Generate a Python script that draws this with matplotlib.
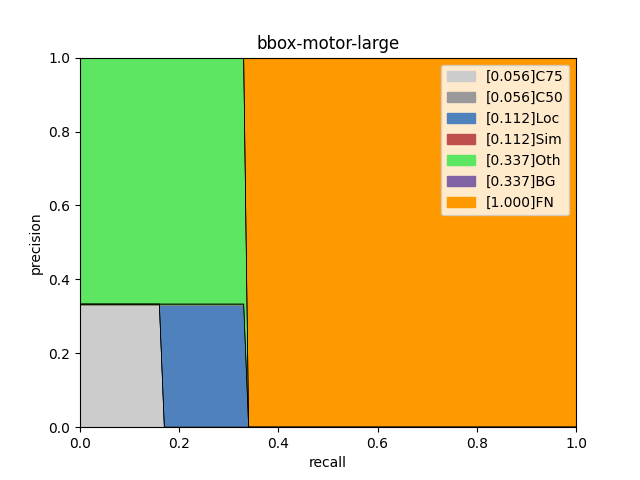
import matplotlib
matplotlib.use("Agg")
import matplotlib.pyplot as plt
import numpy as np

# recall breakpoints and precision of each error type at those points
recall = [0.0, 0.16, 0.17, 0.33, 0.34, 1.0]
p_c75 = [0.333, 0.333, 0.0, 0.0, 0.0, 0.0]
p_c50 = [0.333, 0.333, 0.0, 0.0, 0.0, 0.0]
p_loc = [0.333, 0.333, 0.333, 0.333, 0.0, 0.0]
p_sim = [0.333, 0.333, 0.333, 0.333, 0.0, 0.0]
p_oth = [1.0, 1.0, 1.0, 1.0, 0.0, 0.0]
p_bg = [1.0, 1.0, 1.0, 1.0, 0.0, 0.0]
p_fn = [1.0, 1.0, 1.0, 1.0, 1.0, 1.0]

types = ['C75', 'C50', 'Loc', 'Sim', 'Oth', 'BG', 'FN']
aps = [0.056, 0.056, 0.112, 0.112, 0.337, 0.337, 1.000]

cs = np.vstack([
    np.ones((2, 3)),
    np.array([.31, .51, .74]),
    np.array([.75, .31, .30]),
    np.array([.36, .90, .38]),
    np.array([.50, .39, .64]),
    np.array([1, .6, 0]),
])
cs[0] *= 0.8
cs[1] *= 0.6

curves = [np.zeros(len(recall)), p_c75, p_c50, p_loc, p_sim, p_oth, p_bg, p_fn]

fig = plt.figure(figsize=(6.4, 4.8), dpi=100)
ax = plt.subplot(111)
for k in range(len(types)):
    ax.plot(recall, curves[k + 1], color=[0, 0, 0], linewidth=0.5)
    ax.fill_between(recall, curves[k], curves[k + 1], color=cs[k],
                    label='[{:.3f}'.format(aps[k]) + ']' + types[k])
plt.xlabel('recall')
plt.ylabel('precision')
plt.xlim(0, 1.)
plt.ylim(0, 1.)
plt.title('bbox-motor-large')
plt.legend()
fig.savefig('out.png')
